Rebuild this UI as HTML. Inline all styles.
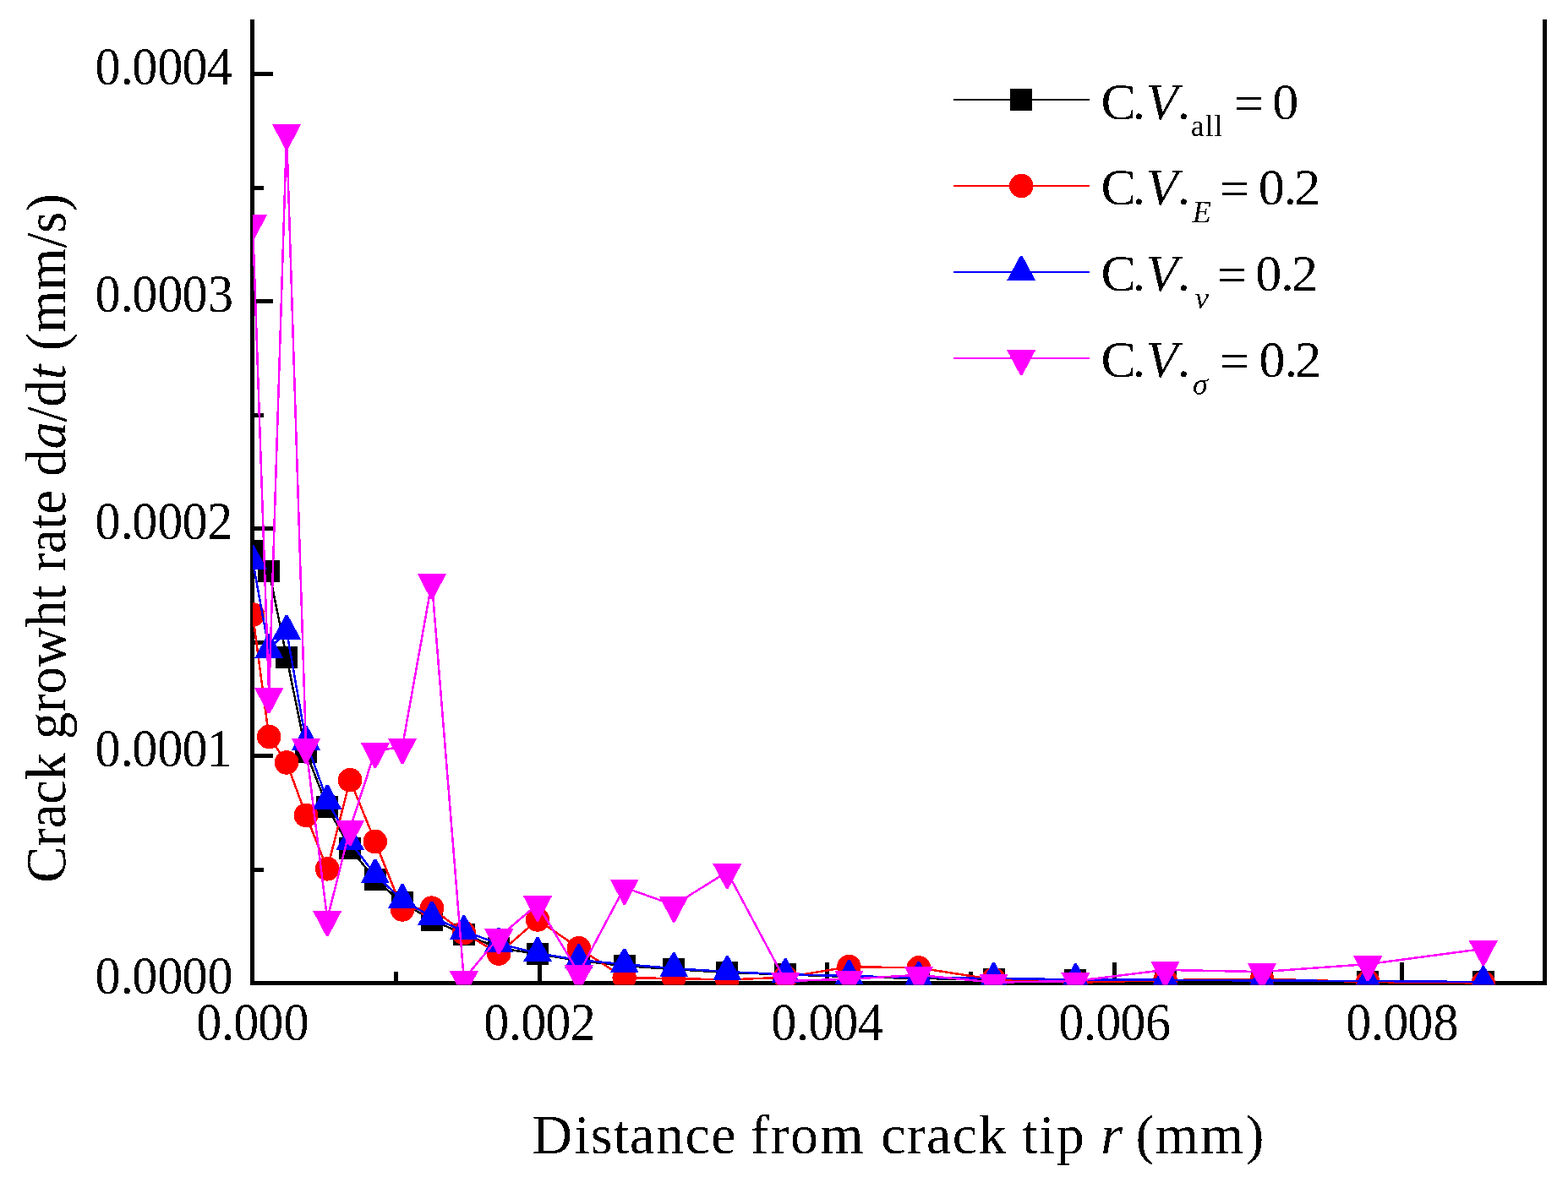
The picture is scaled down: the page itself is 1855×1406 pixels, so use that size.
<!DOCTYPE html>
<html><head><meta charset="utf-8"><style>
html,body{margin:0;padding:0;background:#fff;overflow:hidden}
svg{display:block}
text{font-kerning:none}
</style></head><body>
<svg width="1855" height="1406" viewBox="0 0 1855 1406" font-family="'Liberation Serif', serif">
<rect width="1855" height="1406" fill="#fff"/>
<defs><clipPath id="pc"><rect x="299" y="0" width="1528" height="1165.5"/></clipPath><filter id="bin" x="0" y="0" width="100%" height="100%" filterUnits="userSpaceOnUse"><feComponentTransfer><feFuncA type="discrete" tableValues="0 1"/></feComponentTransfer></filter></defs>
<g fill="#000" shape-rendering="crispEdges"><rect x="296.0" y="23.0" width="5.0" height="1143.0"/><rect x="1825.0" y="23.0" width="5.0" height="1143.0"/><rect x="296.0" y="1161.0" width="1534.0" height="5.0"/><rect x="298.5" y="892.0" width="24.5" height="5.0"/><rect x="298.5" y="623.0" width="24.5" height="5.0"/><rect x="298.5" y="354.0" width="24.5" height="5.0"/><rect x="298.5" y="85.0" width="24.5" height="5.0"/><rect x="298.5" y="1026.5" width="13.5" height="5.0"/><rect x="298.5" y="757.5" width="13.5" height="5.0"/><rect x="298.5" y="488.5" width="13.5" height="5.0"/><rect x="298.5" y="219.5" width="13.5" height="5.0"/><rect x="636.0" y="1139.0" width="5.0" height="24.5"/><rect x="976.0" y="1139.0" width="5.0" height="24.5"/><rect x="1316.0" y="1139.0" width="5.0" height="24.5"/><rect x="1656.0" y="1139.0" width="5.0" height="24.5"/><rect x="466.0" y="1150.0" width="5.0" height="13.5"/><rect x="806.0" y="1150.0" width="5.0" height="13.5"/><rect x="1146.0" y="1150.0" width="5.0" height="13.5"/><rect x="1486.0" y="1150.0" width="5.0" height="13.5"/></g>
<g clip-path="url(#pc)" shape-rendering="crispEdges">
<g fill="#000000"><polyline points="299.0,652.1 318.2,675.6 339.1,777.9 362.0,890.0 387.2,954.9 414.1,1004.0 443.8,1040.9 476.0,1068.4 510.9,1088.6 548.8,1105.7 590.2,1122.0 636.0,1129.0 684.8,1137.0 738.7,1143.1 797.2,1147.1 860.3,1151.0 929.2,1153.3 1004.5,1156.0 1086.8,1158.0 1175.5,1159.1 1272.4,1160.1 1378.5,1161.5 1493.0,1162.0 1618.2,1162.1 1754.8,1162.1" fill="none" stroke="#000000" stroke-width="2.5"/><rect x="286.0" y="639.1" width="26.0" height="26.0"/><rect x="305.2" y="662.6" width="26.0" height="26.0"/><rect x="326.1" y="764.9" width="26.0" height="26.0"/><rect x="349.0" y="877.0" width="26.0" height="26.0"/><rect x="374.2" y="941.9" width="26.0" height="26.0"/><rect x="401.1" y="991.0" width="26.0" height="26.0"/><rect x="430.8" y="1027.9" width="26.0" height="26.0"/><rect x="463.0" y="1055.4" width="26.0" height="26.0"/><rect x="497.9" y="1075.6" width="26.0" height="26.0"/><rect x="535.8" y="1092.7" width="26.0" height="26.0"/><rect x="577.2" y="1109.0" width="26.0" height="26.0"/><rect x="623.0" y="1116.0" width="26.0" height="26.0"/><rect x="671.8" y="1124.0" width="26.0" height="26.0"/><rect x="725.7" y="1130.1" width="26.0" height="26.0"/><rect x="784.2" y="1134.1" width="26.0" height="26.0"/><rect x="847.3" y="1138.0" width="26.0" height="26.0"/><rect x="916.2" y="1140.3" width="26.0" height="26.0"/><rect x="991.5" y="1143.0" width="26.0" height="26.0"/><rect x="1073.8" y="1145.0" width="26.0" height="26.0"/><rect x="1162.5" y="1146.1" width="26.0" height="26.0"/><rect x="1259.4" y="1147.1" width="26.0" height="26.0"/><rect x="1365.5" y="1148.5" width="26.0" height="26.0"/><rect x="1480.0" y="1149.0" width="26.0" height="26.0"/><rect x="1605.2" y="1149.1" width="26.0" height="26.0"/><rect x="1741.8" y="1149.1" width="26.0" height="26.0"/></g>
<g fill="#ff0000"><polyline points="299.0,727.4 318.2,872.0 339.1,902.4 362.0,964.9 387.2,1028.3 414.1,923.2 443.8,996.0 476.0,1076.4 510.9,1074.7 548.8,1104.1 590.2,1128.5 636.0,1088.4 684.8,1122.2 738.7,1157.3 797.2,1158.0 860.3,1159.5 929.2,1156.7 1004.5,1144.2 1086.8,1145.4 1175.5,1159.3 1272.4,1162.8 1378.5,1160.0 1493.0,1158.7 1618.2,1162.0 1754.8,1163.5" fill="none" stroke="#ff0000" stroke-width="2.5"/><circle cx="299.0" cy="727.4" r="14.3"/><circle cx="318.2" cy="872.0" r="14.3"/><circle cx="339.1" cy="902.4" r="14.3"/><circle cx="362.0" cy="964.9" r="14.3"/><circle cx="387.2" cy="1028.3" r="14.3"/><circle cx="414.1" cy="923.2" r="14.3"/><circle cx="443.8" cy="996.0" r="14.3"/><circle cx="476.0" cy="1076.4" r="14.3"/><circle cx="510.9" cy="1074.7" r="14.3"/><circle cx="548.8" cy="1104.1" r="14.3"/><circle cx="590.2" cy="1128.5" r="14.3"/><circle cx="636.0" cy="1088.4" r="14.3"/><circle cx="684.8" cy="1122.2" r="14.3"/><circle cx="738.7" cy="1157.3" r="14.3"/><circle cx="797.2" cy="1158.0" r="14.3"/><circle cx="860.3" cy="1159.5" r="14.3"/><circle cx="929.2" cy="1156.7" r="14.3"/><circle cx="1004.5" cy="1144.2" r="14.3"/><circle cx="1086.8" cy="1145.4" r="14.3"/><circle cx="1175.5" cy="1159.3" r="14.3"/><circle cx="1272.4" cy="1162.8" r="14.3"/><circle cx="1378.5" cy="1160.0" r="14.3"/><circle cx="1493.0" cy="1158.7" r="14.3"/><circle cx="1618.2" cy="1162.0" r="14.3"/><circle cx="1754.8" cy="1163.5" r="14.3"/></g>
<g fill="#0000ff"><polyline points="299.0,664.0 318.2,769.1 339.1,746.8 362.0,877.7 387.2,947.6 414.1,996.3 443.8,1035.3 476.0,1065.1 510.9,1085.3 548.8,1102.2 590.2,1116.8 636.0,1128.2 684.8,1136.1 738.7,1141.3 797.2,1146.1 860.3,1150.1 929.2,1153.2 1004.5,1155.1 1086.8,1157.0 1175.5,1158.0 1272.4,1159.2 1378.5,1159.7 1493.0,1160.5 1618.2,1161.0 1754.8,1162.1" fill="none" stroke="#0000ff" stroke-width="2.5"/><polygon points="297.5,645.2 300.5,645.2 316.0,674.0 282.0,674.0"/><polygon points="316.7,750.3 319.7,750.3 335.2,779.1 301.2,779.1"/><polygon points="337.6,728.0 340.6,728.0 356.1,756.8 322.1,756.8"/><polygon points="360.5,858.9 363.5,858.9 379.0,887.7 345.0,887.7"/><polygon points="385.7,928.8 388.7,928.8 404.2,957.6 370.2,957.6"/><polygon points="412.6,977.5 415.6,977.5 431.1,1006.3 397.1,1006.3"/><polygon points="442.3,1016.5 445.3,1016.5 460.8,1045.3 426.8,1045.3"/><polygon points="474.5,1046.3 477.5,1046.3 493.0,1075.1 459.0,1075.1"/><polygon points="509.4,1066.5 512.4,1066.5 527.9,1095.3 493.9,1095.3"/><polygon points="547.3,1083.4 550.3,1083.4 565.8,1112.2 531.8,1112.2"/><polygon points="588.7,1098.0 591.7,1098.0 607.2,1126.8 573.2,1126.8"/><polygon points="634.5,1109.4 637.5,1109.4 653.0,1138.2 619.0,1138.2"/><polygon points="683.3,1117.3 686.3,1117.3 701.8,1146.1 667.8,1146.1"/><polygon points="737.2,1122.5 740.2,1122.5 755.7,1151.3 721.7,1151.3"/><polygon points="795.7,1127.3 798.7,1127.3 814.2,1156.1 780.2,1156.1"/><polygon points="858.8,1131.3 861.8,1131.3 877.3,1160.1 843.3,1160.1"/><polygon points="927.7,1134.4 930.7,1134.4 946.2,1163.2 912.2,1163.2"/><polygon points="1003.0,1136.3 1006.0,1136.3 1021.5,1165.1 987.5,1165.1"/><polygon points="1085.3,1138.2 1088.3,1138.2 1103.8,1167.0 1069.8,1167.0"/><polygon points="1174.0,1139.2 1177.0,1139.2 1192.5,1168.0 1158.5,1168.0"/><polygon points="1270.9,1140.4 1273.9,1140.4 1289.4,1169.2 1255.4,1169.2"/><polygon points="1377.0,1140.9 1380.0,1140.9 1395.5,1169.7 1361.5,1169.7"/><polygon points="1491.5,1141.7 1494.5,1141.7 1510.0,1170.5 1476.0,1170.5"/><polygon points="1616.7,1142.2 1619.7,1142.2 1635.2,1171.0 1601.2,1171.0"/><polygon points="1753.3,1143.3 1756.3,1143.3 1771.8,1172.1 1737.8,1172.1"/></g>
<g fill="#ff00ff"><polyline points="299.0,263.8 318.2,824.0 339.1,156.8 362.0,883.8 387.2,1087.8 414.1,980.7 443.8,888.8 476.0,883.7 510.9,688.9 548.8,1158.9 590.2,1109.0 636.0,1070.2 684.8,1152.0 738.7,1050.3 797.2,1071.2 860.3,1031.8 929.2,1161.0 1004.5,1158.8 1086.8,1153.8 1175.5,1162.7 1272.4,1161.0 1378.5,1147.9 1493.0,1150.1 1618.2,1141.1 1754.8,1122.9" fill="none" stroke="#ff00ff" stroke-width="2.5"/><polygon points="281.9,254.0 316.1,254.0 300.3,284.1 297.7,284.1"/><polygon points="301.1,814.2 335.3,814.2 319.5,844.3 316.9,844.3"/><polygon points="322.0,147.0 356.2,147.0 340.4,177.1 337.8,177.1"/><polygon points="344.9,874.0 379.1,874.0 363.3,904.1 360.7,904.1"/><polygon points="370.1,1078.0 404.3,1078.0 388.5,1108.1 385.9,1108.1"/><polygon points="397.0,970.9 431.2,970.9 415.4,1001.0 412.8,1001.0"/><polygon points="426.7,879.0 460.9,879.0 445.1,909.1 442.5,909.1"/><polygon points="458.9,873.9 493.1,873.9 477.3,904.0 474.7,904.0"/><polygon points="493.8,679.1 528.0,679.1 512.2,709.2 509.6,709.2"/><polygon points="531.7,1149.1 565.9,1149.1 550.1,1179.2 547.5,1179.2"/><polygon points="573.1,1099.2 607.3,1099.2 591.5,1129.3 588.9,1129.3"/><polygon points="618.9,1060.4 653.1,1060.4 637.3,1090.5 634.7,1090.5"/><polygon points="667.7,1142.2 701.9,1142.2 686.1,1172.3 683.5,1172.3"/><polygon points="721.6,1040.5 755.8,1040.5 740.0,1070.6 737.4,1070.6"/><polygon points="780.1,1061.4 814.3,1061.4 798.5,1091.5 795.9,1091.5"/><polygon points="843.2,1022.0 877.4,1022.0 861.6,1052.1 859.0,1052.1"/><polygon points="912.1,1151.2 946.3,1151.2 930.5,1181.3 927.9,1181.3"/><polygon points="987.4,1149.0 1021.6,1149.0 1005.8,1179.1 1003.2,1179.1"/><polygon points="1069.7,1144.0 1103.9,1144.0 1088.1,1174.1 1085.5,1174.1"/><polygon points="1158.4,1152.9 1192.6,1152.9 1176.8,1183.0 1174.2,1183.0"/><polygon points="1255.3,1151.2 1289.5,1151.2 1273.7,1181.3 1271.1,1181.3"/><polygon points="1361.4,1138.1 1395.6,1138.1 1379.8,1168.2 1377.2,1168.2"/><polygon points="1475.9,1140.3 1510.1,1140.3 1494.3,1170.4 1491.7,1170.4"/><polygon points="1601.1,1131.3 1635.3,1131.3 1619.5,1161.4 1616.9,1161.4"/><polygon points="1737.7,1113.1 1771.9,1113.1 1756.1,1143.2 1753.5,1143.2"/></g>
</g>
<g fill="#000" filter="url(#bin)"><text transform="scale(0.962,1)" x="116.86 148.48 162.49 193.68 223.93 255.11" y="1176.30" font-size="62.5">0.0000</text><text transform="scale(0.962,1)" x="116.86 148.48 162.49 193.68 223.93 254.19" y="907.30" font-size="62.5">0.0001</text><text transform="scale(0.962,1)" x="116.86 148.48 162.49 193.68 223.93 254.89" y="638.30" font-size="62.5">0.0002</text><text transform="scale(0.962,1)" x="116.86 148.48 162.49 193.68 223.93 255.77" y="369.30" font-size="62.5">0.0003</text><text transform="scale(0.962,1)" x="116.86 148.48 162.49 193.68 223.93 254.63" y="100.30" font-size="62.5">0.0004</text><text transform="scale(0.962,1)" x="241.44 272.33 287.18 317.43 348.72" y="1231.00" font-size="62.5">0.000</text><text transform="scale(0.962,1)" x="594.87 625.76 640.61 670.86 701.51" y="1231.00" font-size="62.5">0.002</text><text transform="scale(0.962,1)" x="948.30 979.19 994.04 1024.29 1055.04" y="1231.00" font-size="62.5">0.004</text><text transform="scale(0.962,1)" x="1301.73 1332.62 1347.47 1377.72 1408.50" y="1231.00" font-size="62.5">0.006</text><text transform="scale(0.962,1)" x="1655.17 1686.05 1700.90 1731.15 1762.44" y="1231.00" font-size="62.5">0.008</text>
<text y="1364.6" font-size="66"><tspan x="629.50 679.58 698.85 725.83 745.10 775.88 810.55 841.33 872.10 887.82 911.38 934.93 970.29 1025.31 1042.37 1073.05 1096.07 1126.75 1157.44 1192.00 1209.29 1229.49 1249.69 1286.04">Distance from crack tip </tspan><tspan font-style="italic" x="1302.32">r</tspan><tspan x="1326.12 1343.57 1366.50 1420.05 1473.60"> (mm)</tspan></text><text transform="translate(77.3,1044.7) rotate(-90)" x="0" y="0" font-size="68" textLength="815.6" lengthAdjust="spacingAndGlyphs">Crack growht rate d<tspan font-style="italic">a</tspan>/d<tspan font-style="italic">t</tspan> (mm/s)</text></g>
<g filter="url(#bin)"><rect x="1128" y="117.0" width="161" height="2" fill="#000000"/><g fill="#000000"><rect x="1195.2" y="105.0" width="26.0" height="26.0"/></g><rect x="1128" y="219.0" width="161" height="2" fill="#ff0000"/><g fill="#ff0000"><circle cx="1208.2" cy="220.0" r="14.3"/></g><rect x="1128" y="321.0" width="161" height="2" fill="#0000ff"/><g fill="#0000ff"><polygon points="1206.7,303.2 1209.7,303.2 1225.2,332.0 1191.2,332.0"/></g><rect x="1128" y="422.8" width="161" height="2" fill="#ff00ff"/><g fill="#ff00ff"><polygon points="1191.1,414.0 1225.3,414.0 1209.5,444.1 1206.9,444.1"/></g><text y="141.30" font-size="62" fill="#000"><tspan x="1302.56 1339.41">C.</tspan><tspan font-style="italic" x="1355.76">V</tspan><tspan x="1392.61">.</tspan><tspan font-size="36.3" x="1408.87 1425.69 1436.23" dy="19.3">all</tspan><tspan x="1446.76 1459.71 1494.68" dy="-17.30"> = </tspan><tspan x="1505.34" dy="-2.00">0</tspan></text><text y="242.30" font-size="62" fill="#000"><tspan x="1302.56 1339.41">C.</tspan><tspan font-style="italic" x="1355.76">V</tspan><tspan x="1392.61">.</tspan><tspan font-size="36.3" font-style="italic" x="1410.67" dy="20.3">E</tspan><tspan x="1429.70 1442.81 1477.78" dy="-18.30"> = </tspan><tspan x="1488.64 1518.51 1531.28" dy="-2.00">0.2</tspan></text><text y="344.30" font-size="62" fill="#000"><tspan x="1302.56 1339.41">C.</tspan><tspan font-style="italic" x="1355.76">V</tspan><tspan x="1392.61">.</tspan><tspan font-size="36.3" font-style="italic" x="1413.77" dy="20.3">ν</tspan><tspan x="1431.10 1439.91 1474.88" dy="-18.30"> = </tspan><tspan x="1485.34 1515.21 1527.98" dy="-2.00">0.2</tspan></text><text y="446.20" font-size="62" fill="#000"><tspan x="1302.56 1339.41">C.</tspan><tspan font-style="italic" x="1355.76">V</tspan><tspan x="1392.61">.</tspan><tspan font-size="36.3" font-style="italic" x="1411.01" dy="20.3">σ</tspan><tspan x="1434.02 1442.81 1477.78" dy="-18.30"> = </tspan><tspan x="1489.54 1519.41 1532.18" dy="-2.00">0.2</tspan></text></g>
</svg>
</body></html>
